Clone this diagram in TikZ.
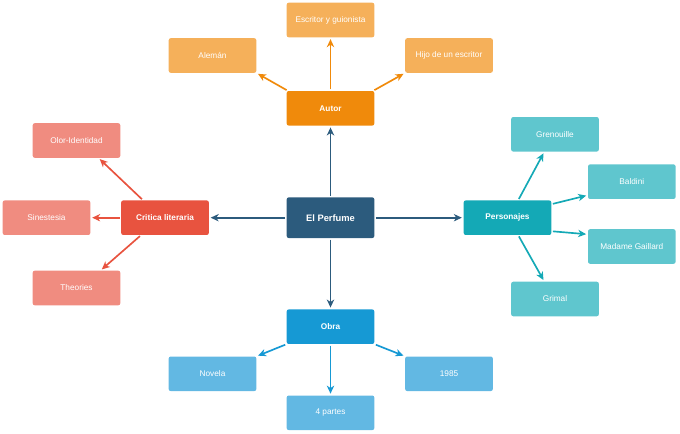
\documentclass[tikz,border=0pt]{standalone}
\usepackage{fontspec}
\setmainfont{Liberation Sans}
\usetikzlibrary{arrows.meta}

\definecolor{perfume}{HTML}{2C5B7D}
\definecolor{autor}{HTML}{F08A0B}
\definecolor{autorsub}{HTML}{F5B05A}
\definecolor{critica}{HTML}{E8533F}
\definecolor{criticasub}{HTML}{F08C80}
\definecolor{perso}{HTML}{14A9B6}
\definecolor{persosub}{HTML}{5FC6CE}
\definecolor{obra}{HTML}{1699D4}
\definecolor{obrasub}{HTML}{62B8E3}

\tikzset{
    box/.style={rectangle, rounded corners=1.5pt, inner sep=0pt, text=white,
        minimum width=65.7pt, minimum height=25.9pt, align=center},
    mainbox/.style={box, fill=#1, font=\fontsize{6.2}{7}\selectfont\bfseries},
    subbox/.style={box, fill=#1, font=\fontsize{6.2}{7}\selectfont},
    link/.style={draw=#1, line width=1.25pt, -{Stealth[length=6pt, width=5.5pt, inset=1.8pt]}, shorten >=1.2pt, shorten <=1pt}
}

\begin{document}
\begin{tikzpicture}[x=0.75pt, y=-0.75pt]
            \useasboundingbox(0, 0)rectangle(680, 434);
            % centre
            \node[box, fill=perfume, minimum height=30.5pt, font=\fontsize{7}{8}\selectfont\bfseries](perfume)at(330.5, 217.7){El Perfume};
            % main topics
            \node[mainbox=autor](autor)at(330.5, 108.3){Autor};
            \node[mainbox=critica](critica)at(165, 217.7){Critica literaria};
            \node[mainbox=perso](perso)at(507.5, 217.7){Personajes};
            \node[mainbox=obra](obra)at(330.5, 326.7){Obra};
            % Autor
            \node[subbox=autorsub](escritor)at(330.5, 20){Escritor y guionista};
            \node[subbox=autorsub](aleman)at(212.5, 55.5){Alemán};
            \node[subbox=autorsub](hijo)at(449, 55.5){Hijo de un escritor};
            % Critica literaria
            \node[subbox=criticasub](olor)at(76.5, 140.5){Olor-Identidad};
            \node[subbox=criticasub](sinestesia)at(46.5, 217.7){Sinestesia};
            \node[subbox=criticasub](theories)at(76.5, 288){Theories};
            % Personajes
            \node[subbox=persosub](grenouille)at(555, 134.3){Grenouille};
            \node[subbox=persosub](baldini)at(631.8, 181.7){Baldini};
            \node[subbox=persosub](gaillard)at(631.8, 246.5){Madame Gaillard};
            \node[subbox=persosub](grimal)at(555, 299){Grimal};
            % Obra
            \node[subbox=obrasub](novela)at(212.5, 373.8){Novela};
            \node[subbox=obrasub](partes)at(330.5, 412.8){4 partes};
            \node[subbox=obrasub](anio)at(449, 373.8){1985};

            \draw[link=perfume](perfume)--(autor);
            \draw[link=perfume](perfume)--(critica);
            \draw[link=perfume](perfume)--(perso);
            \draw[link=perfume](perfume)--(obra);

            \draw[link=autor]([xshift=1pt]autor.north west)--(aleman.south east);
            \draw[link=autor](autor)--(escritor);
            \draw[link=autor]([xshift=-1pt]autor.north east)--(hijo.south west);

            \draw[link=critica]([xshift=16.5pt]critica.north west)--([xshift=-16.5pt]olor.south east);
            \draw[link=critica](critica)--(sinestesia);
            \draw[link=critica]([xshift=15pt]critica.south west)--([xshift=-15pt]theories.north east);

            \draw[link=perso]([xshift=-25pt]perso.north east)--([xshift=25pt]grenouille.south west);
            \draw[link=perso]([yshift=-3pt]perso.north east)--([yshift=3pt]baldini.south west);
            \draw[link=perso]([yshift=3pt]perso.south east)--([yshift=-4pt]gaillard.north west);
            \draw[link=perso]([xshift=-25pt]perso.south east)--([xshift=25pt]grimal.north west);

            \draw[link=obra](obra.south west)--(novela.north east);
            \draw[link=obra](obra)--(partes);
            \draw[link=obra](obra.south east)--(anio.north west);
        \end{tikzpicture}
\end{document}
